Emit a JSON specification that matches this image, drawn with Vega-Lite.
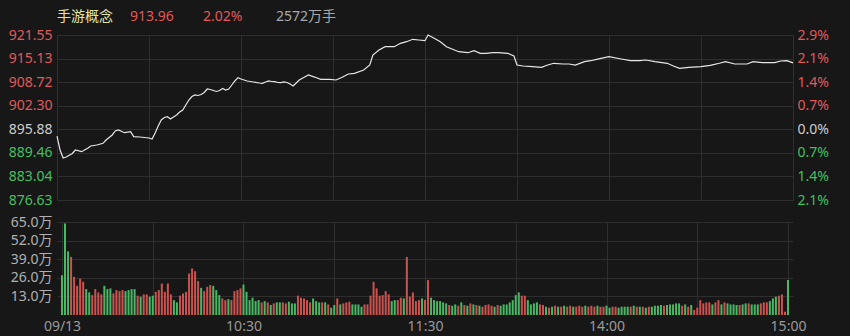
{
"$schema": "https://vega.github.io/schema/vega-lite/v6.json",
"background": "#171717",
"padding": {"left": 8, "right": 21, "top": 0, "bottom": 3},
"bounds": "flush",
"spacing": 22,
"resolve": {"scale": {"color": "independent"}},
"config": {
  "font": "Noto Sans, Noto Sans CJK SC",
  "view": {"stroke": null},
  "axis": {"gridColor": "#2e2e2e", "gridWidth": 1, "domain": false, "ticks": false, "labelFontSize": 14, "labelFont": "Noto Sans, Noto Sans CJK SC", "title": null}
},
"datasets": {
  "header": [
    {"k": "name", "label": "手游概念"},
    {"k": "price", "label": "913.96"},
    {"k": "pct", "label": "2.02%"},
    {"k": "vol", "label": "2572万手"}
  ],
  "price": [
    {"t":0,"p":894.05},{"t":1,"p":890.24},{"t":2,"p":888.06},{"t":3,"p":888.33},{"t":5,"p":889.29},{"t":6,"p":890.24},{"t":8,"p":889.78},{"t":10,"p":890.70},{"t":11,"p":891.33},{"t":13,"p":891.60},{"t":15,"p":892.07},{"t":16,"p":892.97},{"t":18,"p":894.33},{"t":19,"p":895.42},{"t":20,"p":895.69},{"t":22,"p":894.95},{"t":24,"p":895.23},{"t":25,"p":893.87},{"t":27,"p":893.78},{"t":30,"p":893.51},{"t":31,"p":893.24},{"t":32,"p":894.87},{"t":33,"p":896.78},{"t":34,"p":898.41},{"t":35,"p":899.09},{"t":36,"p":899.31},{"t":37,"p":898.68},{"t":38,"p":899.23},{"t":39,"p":899.77},{"t":40,"p":900.59},{"t":41,"p":901.13},{"t":42,"p":902.49},{"t":43,"p":903.85},{"t":44,"p":904.81},{"t":45,"p":905.22},{"t":46,"p":905.08},{"t":47,"p":905.35},{"t":48,"p":905.90},{"t":49,"p":906.85},{"t":50,"p":906.71},{"t":51,"p":906.44},{"t":52,"p":906.17},{"t":53,"p":906.44},{"t":54,"p":906.99},{"t":55,"p":906.58},{"t":56,"p":906.85},{"t":57,"p":907.94},{"t":58,"p":909.03},{"t":59,"p":909.93},{"t":60,"p":909.57},{"t":61,"p":909.30},{"t":62,"p":909.03},{"t":64,"p":908.76},{"t":66,"p":908.48},{"t":67,"p":908.40},{"t":68,"p":908.76},{"t":69,"p":909.03},{"t":70,"p":908.89},{"t":71,"p":908.84},{"t":72,"p":908.62},{"t":73,"p":908.57},{"t":74,"p":908.76},{"t":75,"p":908.62},{"t":76,"p":908.21},{"t":77,"p":907.67},{"t":78,"p":908.48},{"t":79,"p":909.30},{"t":80,"p":909.80},{"t":82,"p":910.66},{"t":84,"p":910.10},{"t":86,"p":909.49},{"t":89,"p":909.49},{"t":91,"p":909.30},{"t":93,"p":910.03},{"t":95,"p":910.93},{"t":97,"p":911.12},{"t":100,"p":912.02},{"t":102,"p":913.38},{"t":103,"p":916.11},{"t":105,"p":917.47},{"t":107,"p":918.36},{"t":110,"p":918.36},{"t":112,"p":919.29},{"t":114,"p":919.73},{"t":116,"p":920.38},{"t":118,"p":920.19},{"t":120,"p":920.00},{"t":121,"p":921.55},{"t":123,"p":920.65},{"t":125,"p":919.73},{"t":127,"p":918.36},{"t":129,"p":917.66},{"t":131,"p":917.00},{"t":134,"p":916.73},{"t":136,"p":917.28},{"t":138,"p":916.57},{"t":140,"p":916.57},{"t":142,"p":916.73},{"t":144,"p":916.73},{"t":147,"p":916.57},{"t":149,"p":915.83},{"t":150,"p":913.38},{"t":152,"p":913.11},{"t":155,"p":912.92},{"t":158,"p":912.76},{"t":160,"p":913.38},{"t":162,"p":913.85},{"t":165,"p":913.66},{"t":167,"p":913.66},{"t":169,"p":913.38},{"t":172,"p":914.28},{"t":174,"p":914.55},{"t":176,"p":914.93},{"t":177,"p":915.10},{"t":180,"p":915.64},{"t":184,"p":915.02},{"t":187,"p":914.55},{"t":190,"p":914.55},{"t":192,"p":914.74},{"t":195,"p":914.28},{"t":199,"p":913.85},{"t":201,"p":913.11},{"t":203,"p":912.48},{"t":206,"p":912.76},{"t":210,"p":912.92},{"t":213,"p":913.30},{"t":216,"p":913.85},{"t":218,"p":914.28},{"t":221,"p":913.66},{"t":225,"p":913.66},{"t":227,"p":914.28},{"t":230,"p":914.01},{"t":234,"p":914.01},{"t":236,"p":914.47},{"t":238,"p":914.55},{"t":240,"p":913.96}
  ],
  "vol": [
    {"t":0,"v":27.8,"s":"d"},{"t":1,"v":64,"s":"d"},{"t":2,"v":44.5,"s":"d"},{"t":3,"v":40.6,"s":"u"},{"t":4,"v":26.7,"s":"u"},{"t":5,"v":20.4,"s":"u"},{"t":6,"v":25.5,"s":"u"},{"t":7,"v":23.2,"s":"u"},{"t":8,"v":18.1,"s":"d"},{"t":9,"v":15.8,"s":"d"},
    {"t":10,"v":13.9,"s":"u"},{"t":11,"v":18.1,"s":"u"},{"t":12,"v":15.8,"s":"u"},{"t":13,"v":14.4,"s":"u"},{"t":14,"v":20.4,"s":"d"},{"t":15,"v":18.1,"s":"d"},{"t":16,"v":18.6,"s":"d"},{"t":17,"v":15.1,"s":"u"},{"t":18,"v":17.4,"s":"u"},{"t":19,"v":16.7,"s":"u"},
    {"t":20,"v":17.4,"s":"u"},{"t":21,"v":16.7,"s":"d"},{"t":22,"v":17.4,"s":"d"},{"t":23,"v":18.1,"s":"d"},{"t":24,"v":18.1,"s":"d"},{"t":25,"v":13.5,"s":"u"},{"t":26,"v":12.8,"s":"d"},{"t":27,"v":14.4,"s":"u"},{"t":28,"v":14.4,"s":"u"},{"t":29,"v":12.8,"s":"d"},
    {"t":30,"v":13.5,"s":"d"},{"t":31,"v":16.2,"s":"u"},{"t":32,"v":17.4,"s":"u"},{"t":33,"v":22.0,"s":"u"},{"t":34,"v":16.2,"s":"u"},{"t":35,"v":22.0,"s":"u"},{"t":36,"v":14.4,"s":"u"},{"t":37,"v":10.4,"s":"d"},{"t":38,"v":8.8,"s":"d"},{"t":39,"v":13.5,"s":"u"},
    {"t":40,"v":15.1,"s":"u"},{"t":41,"v":16.2,"s":"u"},{"t":42,"v":29.0,"s":"u"},{"t":43,"v":32.5,"s":"u"},{"t":44,"v":30.6,"s":"u"},{"t":45,"v":23.7,"s":"u"},{"t":46,"v":19.0,"s":"d"},{"t":47,"v":16.7,"s":"u"},{"t":48,"v":19.7,"s":"u"},{"t":49,"v":20.9,"s":"u"},
    {"t":50,"v":20.4,"s":"d"},{"t":51,"v":17.4,"s":"d"},{"t":52,"v":13.9,"s":"d"},{"t":53,"v":11.6,"s":"u"},{"t":54,"v":10.4,"s":"u"},{"t":55,"v":11.1,"s":"d"},{"t":56,"v":10.4,"s":"u"},{"t":57,"v":16.7,"s":"u"},{"t":58,"v":17.4,"s":"u"},{"t":59,"v":18.6,"s":"u"},
    {"t":60,"v":21.3,"s":"d"},{"t":61,"v":16.2,"s":"d"},{"t":62,"v":10.4,"s":"d"},{"t":63,"v":12.1,"s":"d"},{"t":64,"v":9.7,"s":"d"},{"t":65,"v":10.4,"s":"d"},{"t":66,"v":8.8,"s":"u"},{"t":67,"v":9.7,"s":"d"},{"t":68,"v":8.8,"s":"u"},{"t":69,"v":7.0,"s":"d"},
    {"t":70,"v":8.1,"s":"u"},{"t":71,"v":8.8,"s":"d"},{"t":72,"v":8.8,"s":"d"},{"t":73,"v":8.8,"s":"u"},{"t":74,"v":8.1,"s":"u"},{"t":75,"v":9.3,"s":"d"},{"t":76,"v":8.1,"s":"d"},{"t":77,"v":8.1,"s":"d"},{"t":78,"v":13.5,"s":"u"},{"t":79,"v":12.1,"s":"u"},
    {"t":80,"v":11.6,"s":"u"},{"t":81,"v":10.4,"s":"u"},{"t":82,"v":8.8,"s":"u"},{"t":83,"v":11.6,"s":"d"},{"t":84,"v":9.7,"s":"d"},{"t":85,"v":8.8,"s":"d"},{"t":86,"v":8.8,"s":"u"},{"t":87,"v":8.8,"s":"d"},{"t":88,"v":7.4,"s":"u"},{"t":89,"v":5.1,"s":"d"},
    {"t":90,"v":7.0,"s":"d"},{"t":91,"v":11.6,"s":"u"},{"t":92,"v":7.4,"s":"d"},{"t":93,"v":8.1,"s":"u"},{"t":94,"v":8.8,"s":"u"},{"t":95,"v":9.3,"s":"u"},{"t":96,"v":7.4,"s":"d"},{"t":97,"v":7.4,"s":"d"},{"t":98,"v":7.4,"s":"d"},{"t":99,"v":5.8,"s":"d"},
    {"t":100,"v":7.4,"s":"u"},{"t":101,"v":7.4,"s":"u"},{"t":102,"v":13.5,"s":"u"},{"t":103,"v":23.2,"s":"u"},{"t":104,"v":18.6,"s":"u"},{"t":105,"v":13.5,"s":"u"},{"t":106,"v":13.9,"s":"u"},{"t":107,"v":16.7,"s":"u"},{"t":108,"v":14.4,"s":"u"},{"t":109,"v":9.7,"s":"d"},
    {"t":110,"v":10.4,"s":"d"},{"t":111,"v":10.4,"s":"u"},{"t":112,"v":12.1,"s":"u"},{"t":113,"v":11.6,"s":"d"},{"t":114,"v":40.6,"s":"u"},{"t":115,"v":12.8,"s":"u"},{"t":116,"v":15.8,"s":"u"},{"t":117,"v":9.7,"s":"u"},{"t":118,"v":10.4,"s":"u"},{"t":119,"v":11.6,"s":"d"},
    {"t":120,"v":10.4,"s":"u"},{"t":121,"v":24.4,"s":"u"},{"t":122,"v":12.1,"s":"d"},{"t":123,"v":10.4,"s":"d"},{"t":124,"v":9.7,"s":"d"},{"t":125,"v":9.7,"s":"d"},{"t":126,"v":8.8,"s":"d"},{"t":127,"v":8.1,"s":"d"},{"t":128,"v":7.0,"s":"u"},{"t":129,"v":6.5,"s":"d"},
    {"t":130,"v":7.4,"s":"d"},{"t":131,"v":6.5,"s":"u"},{"t":132,"v":8.8,"s":"d"},{"t":133,"v":7.0,"s":"u"},{"t":134,"v":6.5,"s":"d"},{"t":135,"v":8.1,"s":"u"},{"t":136,"v":7.4,"s":"d"},{"t":137,"v":7.0,"s":"u"},{"t":138,"v":6.5,"s":"d"},{"t":139,"v":5.8,"s":"u"},
    {"t":140,"v":7.0,"s":"u"},{"t":141,"v":7.4,"s":"u"},{"t":142,"v":6.5,"s":"u"},{"t":143,"v":5.8,"s":"d"},{"t":144,"v":7.0,"s":"u"},{"t":145,"v":6.5,"s":"d"},{"t":146,"v":7.4,"s":"d"},{"t":147,"v":7.4,"s":"d"},{"t":148,"v":8.8,"s":"d"},{"t":149,"v":10.4,"s":"d"},
    {"t":150,"v":13.9,"s":"d"},{"t":151,"v":15.8,"s":"d"},{"t":152,"v":13.5,"s":"u"},{"t":153,"v":13.5,"s":"u"},{"t":154,"v":10.4,"s":"d"},{"t":155,"v":7.4,"s":"d"},{"t":156,"v":8.1,"s":"d"},{"t":157,"v":8.8,"s":"d"},{"t":158,"v":7.4,"s":"u"},{"t":159,"v":7.0,"s":"u"},
    {"t":160,"v":5.8,"s":"d"},{"t":161,"v":5.1,"s":"u"},{"t":162,"v":5.8,"s":"d"},{"t":163,"v":6.5,"s":"u"},{"t":164,"v":5.8,"s":"d"},{"t":165,"v":5.8,"s":"u"},{"t":166,"v":6.5,"s":"d"},{"t":167,"v":5.8,"s":"u"},{"t":168,"v":6.5,"s":"u"},{"t":169,"v":5.8,"s":"d"},
    {"t":170,"v":5.8,"s":"u"},{"t":171,"v":6.5,"s":"u"},{"t":172,"v":5.8,"s":"u"},{"t":173,"v":6.5,"s":"d"},{"t":174,"v":5.8,"s":"u"},{"t":175,"v":6.5,"s":"u"},{"t":176,"v":5.8,"s":"u"},{"t":177,"v":6.5,"s":"d"},{"t":178,"v":5.8,"s":"u"},{"t":179,"v":5.8,"s":"u"},
    {"t":180,"v":6.5,"s":"d"},{"t":181,"v":5.1,"s":"d"},{"t":182,"v":5.8,"s":"u"},{"t":183,"v":5.8,"s":"u"},{"t":184,"v":5.1,"s":"d"},{"t":185,"v":5.8,"s":"d"},{"t":186,"v":5.8,"s":"d"},{"t":187,"v":5.8,"s":"d"},{"t":188,"v":5.8,"s":"u"},{"t":189,"v":6.5,"s":"d"},
    {"t":190,"v":5.8,"s":"u"},{"t":191,"v":5.8,"s":"d"},{"t":192,"v":5.8,"s":"u"},{"t":193,"v":5.1,"s":"d"},{"t":194,"v":5.8,"s":"u"},{"t":195,"v":5.8,"s":"d"},{"t":196,"v":6.5,"s":"d"},{"t":197,"v":6.5,"s":"d"},{"t":198,"v":7.0,"s":"d"},{"t":199,"v":6.5,"s":"u"},
    {"t":200,"v":7.0,"s":"d"},{"t":201,"v":7.4,"s":"d"},{"t":202,"v":7.4,"s":"d"},{"t":203,"v":8.1,"s":"d"},{"t":204,"v":8.1,"s":"d"},{"t":205,"v":6.5,"s":"u"},{"t":206,"v":7.4,"s":"d"},{"t":207,"v":5.8,"s":"u"},{"t":208,"v":7.0,"s":"d"},{"t":209,"v":3.5,"s":"u"},
    {"t":210,"v":5.1,"s":"u"},{"t":211,"v":10.4,"s":"u"},{"t":212,"v":8.1,"s":"u"},{"t":213,"v":8.8,"s":"u"},{"t":214,"v":8.8,"s":"u"},{"t":215,"v":7.4,"s":"d"},{"t":216,"v":8.8,"s":"u"},{"t":217,"v":10.4,"s":"u"},{"t":218,"v":7.4,"s":"d"},{"t":219,"v":8.8,"s":"u"},
    {"t":220,"v":8.1,"s":"d"},{"t":221,"v":7.4,"s":"d"},{"t":222,"v":7.4,"s":"d"},{"t":223,"v":7.0,"s":"d"},{"t":224,"v":7.0,"s":"u"},{"t":225,"v":7.4,"s":"d"},{"t":226,"v":8.1,"s":"d"},{"t":227,"v":8.1,"s":"u"},{"t":228,"v":7.4,"s":"d"},{"t":229,"v":7.4,"s":"d"},
    {"t":230,"v":7.4,"s":"d"},{"t":231,"v":8.1,"s":"u"},{"t":232,"v":8.8,"s":"u"},{"t":233,"v":8.8,"s":"u"},{"t":234,"v":9.7,"s":"d"},{"t":235,"v":11.6,"s":"d"},{"t":236,"v":12.8,"s":"d"},{"t":237,"v":13.5,"s":"u"},{"t":238,"v":14.4,"s":"u"},{"t":239,"v":2.3,"s":"u"},
    {"t":240,"v":24.4,"s":"d"}
  ]
},
"vconcat": [
  {
    "width": 736, "height": 13,
    "data": {"name": "header"},
    "mark": {"type": "text", "align": "left", "baseline": "middle", "dy": 10, "fontSize": 14},
    "encoding": {
      "x": {"field": "k", "type": "nominal", "scale": {"type": "point", "domain": ["name", "price", "pct", "vol"], "range": [0, 219], "padding": 0}, "axis": null},
      "text": {"field": "label"},
      "color": {"field": "k", "type": "nominal", "scale": {"domain": ["name", "price", "pct", "vol"], "range": ["#e6e3a8", "#e05a5a", "#e05a5a", "#a8a8a8"]}, "legend": null}
    }
  },
  {
    "width": 736, "height": 165,
    "data": {"name": "price"},
    "encoding": {
      "x": {"field": "t", "type": "quantitative", "scale": {"domain": [0, 240], "nice": false}, "axis": {"values": [0, 30, 60, 90, 120, 150, 180, 210, 240], "labels": false, "grid": true}}
    },
    "layer": [
      {
        "mark": {"type": "line", "color": "#e6e6e6", "strokeWidth": 1.2},
        "encoding": {
          "y": {"field": "p", "type": "quantitative", "scale": {"domain": [876.63, 921.55], "nice": false, "zero": false},
            "axis": {"values": [876.63, 883.04, 889.46, 895.88, 902.30, 908.72, 915.13, 921.55], "format": ".2f", "labelPadding": 5,
              "labelColor": {"condition": [{"test": "datum.value > 895.9", "value": "#e05a5a"}, {"test": "datum.value < 895.8", "value": "#3fc160"}], "value": "#cccccc"}}}
        }
      },
      {
        "mark": {"type": "line", "strokeOpacity": 0},
        "encoding": {
          "y": {"field": "p", "type": "quantitative", "scale": {"domain": [876.63, 921.55], "nice": false, "zero": false},
            "axis": {"orient": "right", "grid": false, "values": [876.63, 883.04, 889.46, 895.88, 902.30, 908.72, 915.13, 921.55], "labelExpr": "format(abs(datum.value/895.88-1)*100, '.1f') + '%'", "labelPadding": 4,
              "labelColor": {"condition": [{"test": "datum.value > 895.9", "value": "#e05a5a"}, {"test": "datum.value < 895.8", "value": "#3fc160"}], "value": "#cccccc"}}}
        }
      }
    ],
    "resolve": {"scale": {"y": "independent"}}
  },
  {
    "width": 736, "height": 93,
    "data": {"name": "vol"},
    "mark": {"type": "bar", "size": 2},
    "encoding": {
      "x": {"field": "t", "type": "quantitative", "scale": {"domain": [0, 240], "nice": false},
        "axis": {"values": [0, 30, 60, 90, 120, 150, 180, 210, 240], "labelExpr": "datum.value == 0 ? '09/13' : datum.value == 60 ? '10:30' : datum.value == 120 ? '11:30' : datum.value == 180 ? '14:00' : datum.value == 240 ? '15:00' : ''", "labelColor": "#9a9a9a", "labelPadding": 4, "labelOverlap": false, "labelFlush": false, "labelBound": false, "grid": true}},
      "y": {"field": "v", "type": "quantitative", "scale": {"domain": [0, 65], "nice": false},
        "axis": {"values": [13, 26, 39, 52, 65], "labelExpr": "format(datum.value, '.1f') + '万'", "labelColor": "#b0b0b0", "labelPadding": 5}},
      "color": {"field": "s", "type": "nominal", "scale": {"domain": ["u", "d"], "range": ["#cc5250", "#48b865"]}, "legend": null}
    }
  }
]
}
